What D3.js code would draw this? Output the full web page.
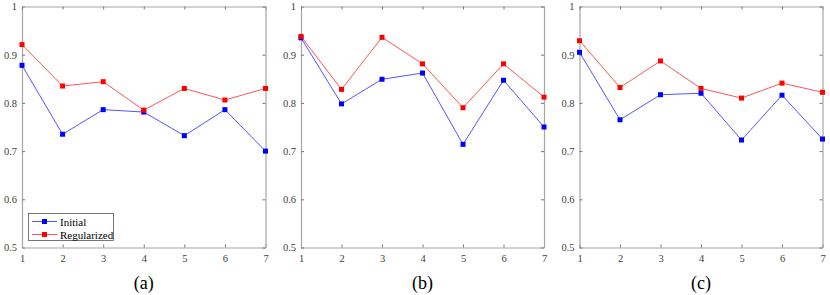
<!DOCTYPE html>
<html>
<head>
<meta charset="utf-8">
<script src="https://cdn.jsdelivr.net/npm/d3@7"></script>
<style>
    body { margin: 0; background: #fff; }
    svg { display: block; }
</style>
</head>
<body>
<svg id="chart" width="830" height="295"></svg>
<script>
const steps = [1, 2, 3, 4, 5, 6, 7];
const yTicks = [0.5, 0.6, 0.7, 0.8, 0.9, 1];
const captions = ['(a)', '(b)', '(c)'];
const seriesNames = ['Initial', 'Regularized'];

const initialA = [0.878, 0.735, 0.786, 0.781, 0.732, 0.786, 0.700];
const regularizedA = [0.921, 0.835, 0.844, 0.785, 0.830, 0.806, 0.830];
const initialB = [0.935, 0.798, 0.849, 0.862, 0.714, 0.847, 0.750];
const regularizedB = [0.938, 0.828, 0.936, 0.881, 0.790, 0.881, 0.812];
const initialC = [0.905, 0.765, 0.817, 0.820, 0.723, 0.816, 0.725];
const regularizedC = [0.929, 0.832, 0.887, 0.830, 0.810, 0.841, 0.822];

const colors = { line: ['#5555ff', '#ff5555'], marker: ['#0000ff', '#ff0000'] };
const serif = "'Liberation Serif', 'Times New Roman', serif";

const panels = [
    { left: 22, right: 265.5, series: [initialA, regularizedA], legend: true },
    { left: 301, right: 544, series: [initialB, regularizedB], legend: false },
    { left: 579.5, right: 822.5, series: [initialC, regularizedC], legend: false }
];
const plotTop = 6.5, plotBottom = 247.5;

const svg = d3.select('#chart');

panels.forEach((p, i) => drawPanel(p, i));

svg.selectAll('text').style('font-family', serif);

function drawPanel(p, i) {
    const g = svg.append('g');

    const x = d3.scaleLinear().domain([1, 7]).range([p.left, p.right]);
    const y = d3.scaleLinear().domain([0.5, 1]).range([plotBottom, plotTop]);

    // axes, ticks pointing inward, MATLAB box style
    g.append('g')
        .attr('transform', 'translate(0,' + plotBottom + ')')
        .call(d3.axisBottom(x).tickValues(steps).tickSizeInner(-3).tickSizeOuter(0).tickPadding(7).tickFormat(d3.format('d')));
    g.append('g')
        .attr('transform', 'translate(' + p.left + ',0)')
        .call(d3.axisLeft(y).tickValues(yTicks).tickSizeInner(-3).tickSizeOuter(0).tickPadding(5).tickFormat(d => d == 1 ? '1' : d3.format('.1f')(d)));
    g.append('g')
        .attr('transform', 'translate(0,' + plotTop + ')')
        .call(d3.axisTop(x).tickValues(steps).tickSizeInner(-3).tickSizeOuter(0).tickFormat(''));
    g.append('g')
        .attr('transform', 'translate(' + p.right + ',0)')
        .call(d3.axisRight(y).tickValues(yTicks).tickSizeInner(-3).tickSizeOuter(0).tickFormat(''));

    g.selectAll('.domain').attr('stroke', '#a6a6a6').attr('stroke-width', 1.2);
    g.selectAll('.tick line').attr('stroke', '#777');
    g.selectAll('.tick text').style('font-size', '10.5px').attr('fill', '#404040');

    const line = d3.line()
        .x((d, k) => x(steps[k]))
        .y(d => y(d));

    p.series.forEach((vals, s) => {
        g.append('path')
            .datum(vals)
            .attr('d', line)
            .attr('fill', 'none')
            .attr('stroke', colors.line[s])
            .attr('stroke-width', 1);

        g.selectAll('.m' + s)
            .data(vals)
            .enter()
            .append('rect')
                .attr('x', (d, k) => x(steps[k]) - 2.5)
                .attr('y', d => y(d) - 2.5)
                .attr('width', 5)
                .attr('height', 5)
                .attr('fill', colors.marker[s]);
    });

    g.append('text')
        .attr('x', (p.left + p.right) / 2)
        .attr('y', 289)
        .attr('text-anchor', 'middle')
        .style('font-size', '18px')
        .text(captions[i]);

    if (p.legend) {
        const lg = g.append('g');
        lg.append('rect')
            .attr('x', 28.5)
            .attr('y', 213.5)
            .attr('width', 85)
            .attr('height', 27)
            .attr('fill', '#fff')
            .attr('stroke', '#555')
            .attr('stroke-width', 0.8);
        seriesNames.forEach((name, s) => {
            const ly = 221.5 + s * 13;
            lg.append('line')
                .attr('x1', 32).attr('x2', 57)
                .attr('y1', ly).attr('y2', ly)
                .attr('stroke', colors.line[s]);
            lg.append('rect')
                .attr('x', 42).attr('y', ly - 2.5)
                .attr('width', 5).attr('height', 5)
                .attr('fill', colors.marker[s]);
            lg.append('text')
                .attr('x', 60)
                .attr('y', ly + 4)
                .style('font-size', '11px')
                .text(name);
        });
    }
}
</script>
</body>
</html>
